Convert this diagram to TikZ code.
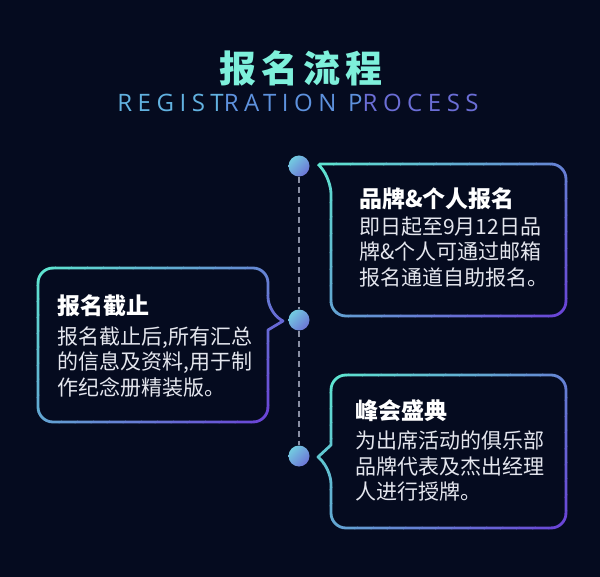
\documentclass[tikz,border=0pt]{standalone}
\usepackage{fontspec}
\usepackage{xcolor}
\usepackage{tikz}
\usetikzlibrary{positioning,shadings}
\newfontfamily\cjk{Noto Sans CJK SC}
\newfontfamily\latinf{Open Sans}
\definecolor{regbg}{HTML}{050B1F}
\definecolor{regcyan}{HTML}{5EE3D0}
\definecolor{regpurple}{HTML}{6A46D6}
\definecolor{regtitle}{HTML}{7EF0DB}
\definecolor{regsubA}{HTML}{62B2E0}
\definecolor{regsubB}{HTML}{5E92DE}
\definecolor{regsubC}{HTML}{6B6ED6}
\definecolor{regdash}{HTML}{8A90A4}
\definecolor{regdotA}{HTML}{74DDE2}
\definecolor{regdotB}{HTML}{6B62D4}
\definecolor{regtext}{HTML}{E4E6EE}
\tikzset{
  bline/.style={line width=2.8pt,line join=round},
  dot/.style={circle,minimum size=21pt,inner sep=0pt,shade,upper left=regdotA,lower right=regdotB,
    upper right=regdotA!50!regdotB,lower left=regdotA!50!regdotB},
  dashline/.style={draw=regdash,line width=1.5pt,dash pattern=on 6pt off 4pt},
  maintitle/.style={font=\cjk\bfseries\fontsize{37}{40}\selectfont\addfontfeature{LetterSpace=13},text=regtitle,inner sep=0pt},
  subtitle/.style={font=\latinf\fontsize{24}{27}\selectfont\addfontfeature{LetterSpace=23},inner sep=0pt},
  ttl/.style={font=\cjk\bfseries\fontsize{23}{26}\selectfont,text=white,inner sep=0pt,anchor=west},
  body/.style={font=\cjk\fontsize{21}{25.5}\selectfont,text=regtext,inner sep=0pt,anchor=west,align=left},
}
% border of a box, coloured in strips from top left (#2) to bottom right (#3)
\newcommand\gradborder[3]{%
  \foreach \i in {0,...,23}{
    \pgfmathsetmacro\ta{#2+(#3-#2)*\i/24}
    \pgfmathsetmacro\tb{#2+(#3-#2)*(\i+1)/24+0.6}
    \pgfmathsetmacro\pc{100*\i/23}
    \begin{scope}
      \clip (\ta+700,-700) -- (\ta-700,700) -- (\tb-700,700) -- (\tb+700,-700) -- cycle;
      \draw[bline,draw=regpurple!\pc!regcyan] #1;
    \end{scope}
  }%
}

\begin{document}
\begin{tikzpicture}[x=1pt,y=-1pt]
  \useasboundingbox (0,0) rectangle (600,577);
  \fill[regbg] (0,0) rectangle (600,577);

  \node[maintitle] (title) at (301,68) {报名流程};
  \node[subtitle] (sub) at (298,103) {{\color{regsubA}REGIST}{\color{regsubB}RATION P}{\color{regsubC}ROCESS}};

  % boxes
  \gradborder{(318,164) [rounded corners=15pt] -- (566,164) -- (566,316) -- (331,316) -- (331,179) [sharp corners] -- cycle}{482}{882}
  \gradborder{(268,330) [rounded corners=15pt] -- (268,422) -- (38,422) -- (38,268) -- (268,268) -- (268,312) [sharp corners] -- (283,321) -- cycle}{306}{690}
  \gradborder{(331,445) [rounded corners=15pt] -- (331,375) -- (566,375) -- (566,528) -- (331,528) -- (331,469) [sharp corners] -- (318,457) -- cycle}{706}{1094}

  % timeline
  \node[dot] (d1) at (299,166) {};
  \node[dot] (d2) at (299,320) {};
  \node[dot] (d3) at (299,456) {};
  \draw[dashline] (d1) -- (d2);
  \draw[dashline] (d2) -- (d3);

  \node[ttl] (t1) at (359,199) {品牌\&个人报名};
  \node[body] (b1) at (359,252) {即日起至9月12日品\\牌\&个人可通过邮箱\\报名通道自助报名。};
  \node[ttl] (t2) at (57,306) {报名截止};
  \node[body] (b2) at (57,362) {报名截止后,所有汇总\\的信息及资料,用于制\\作纪念册精装版。};
  \node[ttl] (t3) at (355,411) {峰会盛典};
  \node[body] (b3) at (355,466) {为出席活动的俱乐部\\品牌代表及杰出经理\\人进行授牌。};
\end{tikzpicture}
\end{document}
